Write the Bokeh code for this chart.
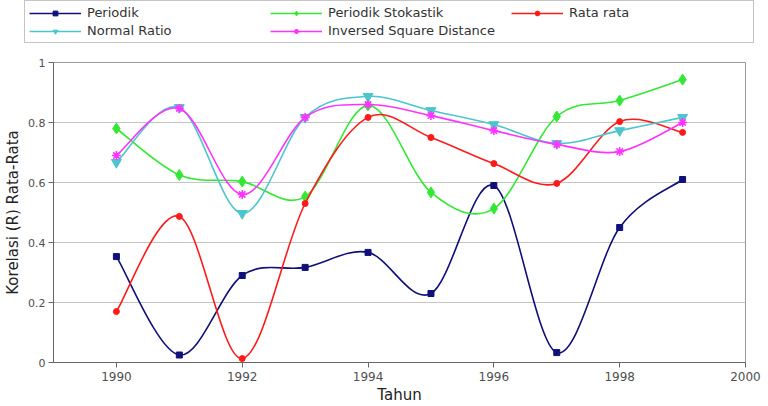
from bokeh.plotting import figure
from bokeh.models import (ColumnDataSource, Legend, LegendItem, FixedTicker, Range1d)
from bokeh.embed import file_html
from bokeh.resources import INLINE

# ---- data ----
years = [1990, 1991, 1992, 1993, 1994, 1995, 1996, 1997, 1998, 1999]
periodik = [0.353, 0.025, 0.290, 0.317, 0.367, 0.230, 0.590, 0.033, 0.450, 0.610]
periodik_stokastik = [0.780, 0.625, 0.603, 0.553, 0.857, 0.567, 0.513, 0.820, 0.873, 0.943]
rata_rata = [0.170, 0.487, 0.013, 0.530, 0.817, 0.750, 0.663, 0.597, 0.803, 0.767]
normal_ratio = [0.667, 0.850, 0.497, 0.817, 0.887, 0.840, 0.793, 0.730, 0.773, 0.817]
inversed_sq = [0.690, 0.847, 0.560, 0.817, 0.860, 0.823, 0.773, 0.727, 0.703, 0.800]

series_names = ["Periodik", "Periodik Stokastik", "Rata rata", "Normal Ratio",
                "Inversed Square Distance"]
x_ticks = [1990, 1992, 1994, 1996, 1998, 2000]
y_ticks = [0, 0.2, 0.4, 0.6, 0.8, 1]

FONT = "DejaVu Sans"

# ---- legend strip (its series sit outside its view; only the legend shows) ----
lf = figure(width=768, height=46, output_backend="svg", toolbar_location=None,
            x_range=Range1d(0, 1), y_range=Range1d(5, 6),
            x_axis_type=None, y_axis_type=None,
            min_border_left=0, min_border_right=0, min_border_top=0,
            min_border_bottom=0)
lf.grid.grid_line_color = None
lf.outline_line_color = None

# ---- main chart ----
p = figure(width=768, height=360, output_backend="svg", toolbar_location=None,
           x_range=Range1d(1989, 2000), y_range=Range1d(0, 1),
           min_border_left=53, min_border_right=23, min_border_top=16,
           min_border_bottom=44)
p.background_fill_color = "white"
p.outline_line_color = "#9a9a9a"
p.outline_line_width = 1
p.xgrid.grid_line_color = None
p.ygrid.grid_line_color = "#c4c4c4"
p.ygrid.grid_line_width = 1

p.xaxis.ticker = FixedTicker(ticks=x_ticks)
p.yaxis.ticker = FixedTicker(ticks=y_ticks)
p.yaxis.major_label_overrides = {0: "0", 1: "1"}
for ax in (p.xaxis, p.yaxis):
    ax.axis_line_color = "#666666"
    ax.major_tick_line_color = "#666666"
    ax.major_tick_out = 5
    ax.major_tick_in = 0
    ax.minor_tick_line_color = None
    ax.major_label_text_font = FONT
    ax.major_label_text_font_size = "11px"
    ax.major_label_text_color = "#505050"
    ax.axis_label_text_font = FONT
    ax.axis_label_text_font_size = "15px"
    ax.axis_label_text_font_style = "normal"
    ax.axis_label_text_color = "#222222"
p.xaxis.major_label_text_font_size = "12px"
p.xaxis.axis_label = "Tahun"
p.yaxis.axis_label = "Korelasi (R) Rata-Rata"
p.xaxis.major_label_standoff = 4
p.xaxis.axis_label_standoff = 2
p.yaxis.major_label_standoff = 3
p.yaxis.axis_label_standoff = 3


def smooth_segments(xs, ys):
    """Catmull-Rom style bezier control points between consecutive data points."""
    n = len(xs)
    d = dict(x0=[], y0=[], x1=[], y1=[], cx0=[], cy0=[], cx1=[], cy1=[])
    for i in range(n - 1):
        im1 = max(i - 1, 0)
        ip2 = min(i + 2, n - 1)
        d["x0"].append(xs[i]); d["y0"].append(ys[i])
        d["x1"].append(xs[i + 1]); d["y1"].append(ys[i + 1])
        d["cx0"].append(xs[i] + (xs[i + 1] - xs[im1]) / 6.0)
        d["cy0"].append(ys[i] + (ys[i + 1] - ys[im1]) / 6.0)
        d["cx1"].append(xs[i + 1] - (xs[ip2] - xs[i]) / 6.0)
        d["cy1"].append(ys[i + 1] - (ys[ip2] - ys[i]) / 6.0)
    return d


styles = [
    (periodik, "#10107a", "square", 6),
    (periodik_stokastik, "#33e833", "diamond", 11),
    (rata_rata, "#ff1a1a", "circle", 6),
    (normal_ratio, "#4cc6cc", "inverted_triangle", 10),
    (inversed_sq, "#ff33ff", "asterisk", 9),
]

items = []
for name, (vals, color, marker, size) in zip(series_names, styles):
    p.bezier(x0="x0", y0="y0", x1="x1", y1="y1", cx0="cx0", cy0="cy0",
             cx1="cx1", cy1="cy1", source=ColumnDataSource(smooth_segments(years, vals)),
             line_color=color, line_width=1.6)
    p.scatter(x=years, y=vals, marker=marker, size=size, fill_color=color,
              line_color=color, line_width=1.6 if marker == "asterisk" else 1)
    # legend renderers in the legend strip (data lies outside the strip's view)
    l_line = lf.line(x=years, y=vals, line_color=color, line_width=1.6)
    l_mark = lf.scatter(x=years, y=vals, marker=marker, size=size,
                        fill_color=color, line_color=color,
                        line_width=1.6 if marker == "asterisk" else 1)
    items.append(LegendItem(label=name, renderers=[l_line, l_mark]))

legend = Legend(items=items, orientation="horizontal", ncols=3,
                location=(24, 3))
legend.label_text_font = FONT
legend.label_text_font_size = "13px"
legend.label_text_color = "#333333"
legend.glyph_width = 52
legend.glyph_height = 12
legend.label_height = 12
legend.label_width = 180
legend.label_standoff = 6
legend.spacing = 3
legend.padding = 4
legend.margin = 0
legend.border_line_color = "#8a8a8a"
legend.border_line_width = 1
legend.background_fill_color = "white"
legend.background_fill_alpha = 1
lf.add_layout(legend, "center")

open("out.html", "w").write(file_html([lf, p], INLINE))
